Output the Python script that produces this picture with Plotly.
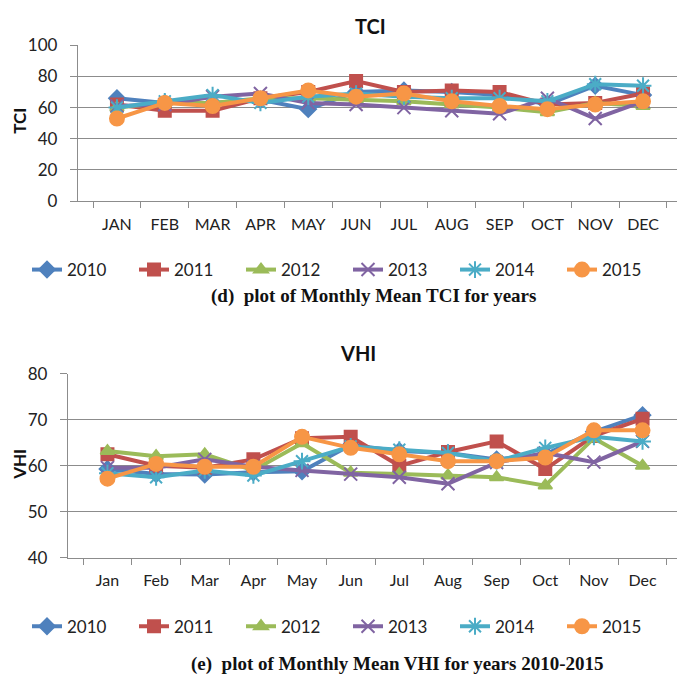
import plotly.graph_objects as go

years = ["2010", "2011", "2012", "2013", "2014", "2015"]
months_top = ["JAN", "FEB", "MAR", "APR", "MAY", "JUN", "JUL", "AUG", "SEP", "OCT", "NOV", "DEC"]
months_bot = ["Jan", "Feb", "Mar", "Apr", "May", "Jun", "Jul", "Aug", "Sep", "Oct", "Nov", "Dec"]

tci_2010 = [66, 63, 63, 65, 59, 70, 71, 70, 68, 62, 74, 68]
tci_2011 = [62, 58, 58, 66, 70, 77, 70, 71, 70, 62, 63, 69]
tci_2012 = [60, 63, 63, 66, 66, 65, 64, 62, 60, 57, 63, 61]
tci_2013 = [61, 62, 67, 69, 63, 62, 60, 58, 56, 66, 53, 64]
tci_2014 = [60, 64, 68, 63, 67, 69, 67, 66, 66, 64, 75, 74]
tci_2015 = [53, 63, 61, 66, 71, 67, 69, 64, 61, 59, 62, 64]

vhi_2010 = [59.3, 58.2, 58.1, 58.6, 58.8, 64.5, 63.2, 62.8, 61.4, 62.5, 67.4, 71.0]
vhi_2011 = [62.5, 60.0, 59.6, 61.4, 66.0, 66.3, 60.0, 63.0, 65.3, 59.3, 66.5, 70.2]
vhi_2012 = [63.2, 62.1, 62.5, 59.0, 64.9, 58.5, 58.2, 57.9, 57.5, 55.7, 66.0, 60.0]
vhi_2013 = [59.6, 59.6, 61.4, 59.8, 59.0, 58.2, 57.5, 56.1, 60.7, 62.8, 60.8, 65.3]
vhi_2014 = [58.4, 57.5, 59.0, 57.9, 61.0, 64.2, 63.5, 62.8, 61.0, 63.9, 66.3, 65.3]
vhi_2015 = [57.2, 60.4, 59.8, 59.8, 66.3, 63.9, 62.5, 61.0, 61.0, 61.8, 67.7, 67.7]

tci_series = [tci_2010, tci_2011, tci_2012, tci_2013, tci_2014, tci_2015]
vhi_series = [vhi_2010, vhi_2011, vhi_2012, vhi_2013, vhi_2014, vhi_2015]

colors = ["#4F81BD", "#C0504D", "#9BBB59", "#8064A2", "#4BACC6", "#F79646"]
symbols = ["diamond", "square", "triangle-up", "x-thin-open", "asterisk-open", "circle"]
msizes = [12, 12, 12, 13, 14, 14]

# page body has an 8px default margin: figure coords = page coords - 8
OFF = 8
W, H = 677, 682
def px_x(p):
    return (p - OFF) / W
def px_y(p):
    return 1 - (p - OFF) / H

FONT = "Lato, 'Open Sans', sans-serif"
GRID = "#8C8C8C"

fig = go.Figure()

for i, y in enumerate(years):
    mk = dict(symbol=symbols[i], size=msizes[i], color=colors[i],
              line=dict(color=colors[i], width=2))
    fig.add_trace(go.Scatter(x=months_top, y=tci_series[i], name=y, mode="lines+markers",
                             line=dict(color=colors[i], width=4), marker=mk,
                             xaxis="x", yaxis="y", legend="legend"))
for i, y in enumerate(years):
    mk = dict(symbol=symbols[i], size=msizes[i], color=colors[i],
              line=dict(color=colors[i], width=2))
    fig.add_trace(go.Scatter(x=months_bot, y=vhi_series[i], name=y, mode="lines+markers",
                             line=dict(color=colors[i], width=4), marker=mk,
                             xaxis="x2", yaxis="y2", legend="legend2"))

xcommon = dict(showline=True, linecolor=GRID, linewidth=1.3, type="category",
               tickson="boundaries", showgrid=False,
               ticks="outside", tickcolor=GRID, ticklen=6, ticklabelstandoff=8,
               tickfont=dict(family=FONT, size=16, color="#222"))
ycommon = dict(showline=True, linecolor=GRID, linewidth=1.3,
               ticks="outside", tickcolor=GRID, ticklen=7, ticklabelstandoff=9,
               showgrid=True, gridcolor=GRID, gridwidth=1.3, zeroline=False,
               tickfont=dict(family=FONT, size=17, color="#222"))

legend_common = dict(orientation="h", xanchor="left", yanchor="middle",
                     entrywidth=62, entrywidthmode="pixels",
                     font=dict(family=FONT, size=17, color="#222"),
                     bgcolor="rgba(0,0,0,0)")

def note(text, x, y, size, family=FONT, angle=0):
    return dict(text=text, x=px_x(x), y=px_y(y), xref="paper", yref="paper",
                xanchor="center", yanchor="middle", showarrow=False, textangle=angle,
                font=dict(family=family, size=size, color="#111"))

SERIF = "Liberation Serif, serif"

fig.update_layout(
    width=W, height=H,
    margin=dict(l=0, r=0, t=0, b=0),
    paper_bgcolor="white", plot_bgcolor="white",
    showlegend=True,
    xaxis=dict(domain=[px_x(78), px_x(682)], anchor="y", **xcommon),
    yaxis=dict(domain=[px_y(196), px_y(35)], anchor="x", range=[0, 100], dtick=20, **ycommon),
    xaxis2=dict(domain=[px_x(68), px_x(682)], anchor="y2", **xcommon),
    yaxis2=dict(domain=[px_y(564), px_y(374)], anchor="x2", range=[40, 80], dtick=10, **ycommon),
    legend=dict(x=px_x(27), y=px_y(267), **legend_common),
    legend2=dict(x=px_x(27), y=px_y(635), **legend_common),
    annotations=[
        note("<b>TCI</b>", 370, 15, 20),
        note("<b>VHI</b>", 358, 353, 20),
        note("<b>TCI</b>", 20, 113, 17, angle=-90),
        note("<b>VHI</b>", 20, 468, 17, angle=-90),
        note("<b>(d)  plot of Monthly Mean TCI for years</b>", 374, 294, 19, SERIF),
        note("<b>(e)  plot of Monthly Mean VHI for years 2010-2015</b>", 397, 673, 19, SERIF),
    ],
)

fig.write_html("out.html")
